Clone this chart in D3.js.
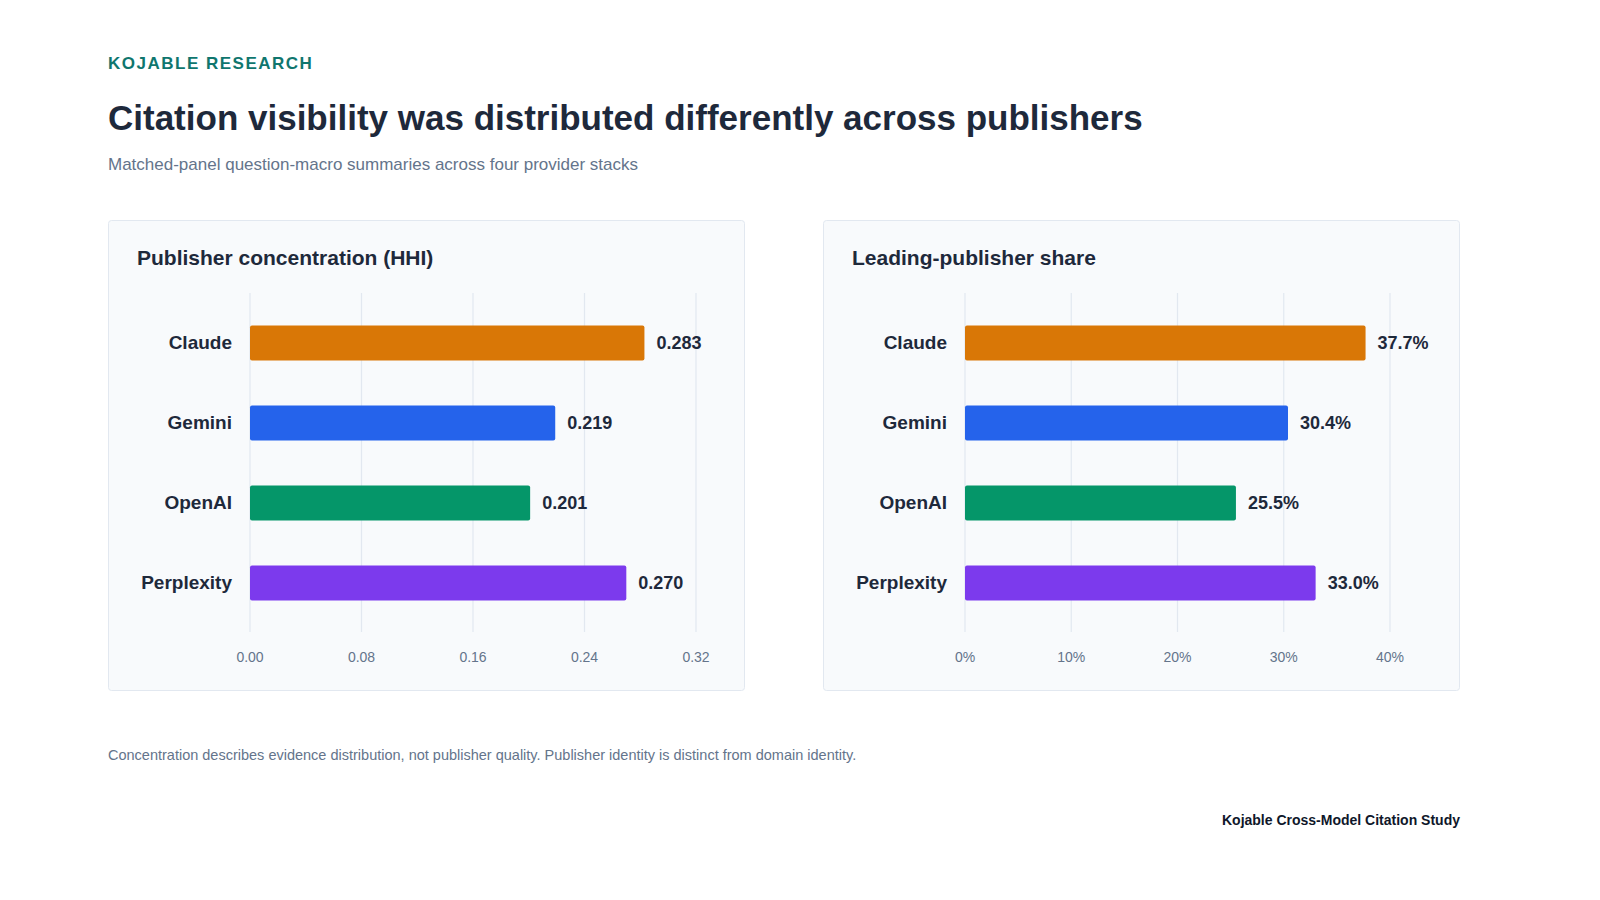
<!DOCTYPE html>
<html><head><meta charset="utf-8">
<script src="https://cdn.jsdelivr.net/npm/d3@7"></script>
<style>body{margin:0;background:#fff;font-family:"Liberation Sans",Arial,sans-serif;}</style>
</head><body><svg id="c" width="1600" height="900"></svg>
<script>
const categories=["Claude","Gemini","OpenAI","Perplexity"];
const colors=["#d97706","#2563eb","#059669","#7c3aed"];
const hhiValues=[0.283,0.219,0.201,0.270];
const shareValues=[37.7,30.4,25.5,33.0];
const hhiTicks=[0,0.08,0.16,0.24,0.32];
const shareTicks=[0,10,20,30,40];

const svg=d3.select("#c");
const t=(x,y,s,o)=>svg.append("text").attr("x",x).attr("y",y).text(s).attr("font-size",o.size).attr("font-weight",o.w||"normal").attr("fill",o.fill).attr("text-anchor",o.a||"start").attr("letter-spacing",o.ls||0);
t(108,69,"KOJABLE RESEARCH",{size:17,w:"bold",fill:"#0f766e",ls:1.5});
t(108,130,"Citation visibility was distributed differently across publishers",{size:35,w:"bold",fill:"#1e293b"});
t(108,170,"Matched-panel question-macro summaries across four provider stacks",{size:17,fill:"#64748b"});
t(108,760,"Concentration describes evidence distribution, not publisher quality. Publisher identity is distinct from domain identity.",{size:14.5,fill:"#64748b"});
t(1460,825,"Kojable Cross-Model Citation Study",{size:14,w:"bold",fill:"#0f172a",a:"end"});

function panel(px,title,vals,ticks,x0,x1,dmax,fmt,lfmt){
  svg.append("rect").attr("x",px+0.5).attr("y",220.5).attr("width",636).attr("height",470).attr("rx",3).attr("fill","#f8fafc").attr("stroke","#e2e8f0");
  t(px+29,265,title,{size:21,w:"bold",fill:"#1e293b"});
  const x=d3.scaleLinear().domain([0,dmax]).range([x0,x1]);
  const y=d3.scaleBand().domain(categories).range([303,623]).paddingInner(0.56).paddingOuter(0.28);
  const g=svg.append("g");
  ticks.forEach(v=>{
    g.append("line").attr("x1",x(v)).attr("x2",x(v)).attr("y1",293).attr("y2",632).attr("stroke","#e2e8f0").attr("stroke-width",1.2);
    t(x(v),662,fmt(v),{size:14,fill:"#64748b",a:"middle"});
  });
  categories.forEach((c,i)=>{
    const yy=y(c),h=y.bandwidth();
    g.append("rect").attr("x",x(0)).attr("y",yy).attr("width",x(vals[i])-x(0)).attr("height",h).attr("rx",2).attr("fill",colors[i]);
    t(x0-18,yy+h/2+6,c,{size:19,w:"bold",fill:"#1e293b",a:"end"});
    t(x(vals[i])+12,yy+h/2+6,lfmt(vals[i]),{size:18,w:"bold",fill:"#1e293b"});
  });
}
panel(108,"Publisher concentration (HHI)",hhiValues,hhiTicks,250,696,0.32,v=>v.toFixed(2),v=>v.toFixed(3));
panel(823,"Leading-publisher share",shareValues,shareTicks,965,1390,40,v=>v+"%",v=>v.toFixed(1)+"%");
</script></body></html>
